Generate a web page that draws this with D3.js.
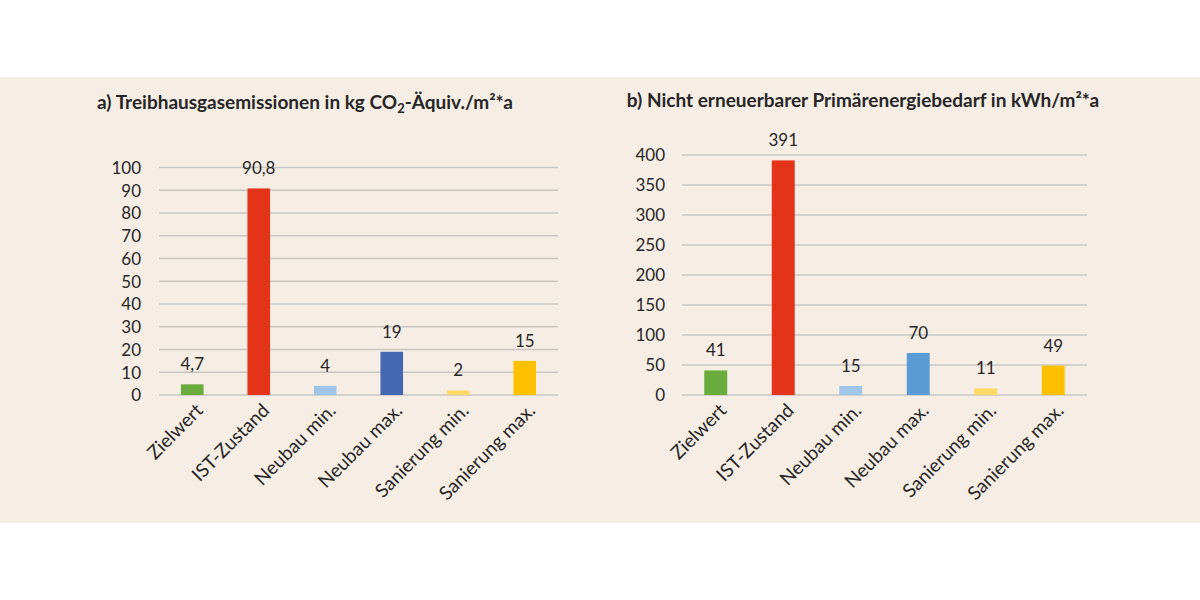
<!DOCTYPE html>
<html><head><meta charset="utf-8">
<script src="https://cdn.jsdelivr.net/npm/d3@7"></script>
<style>body{margin:0;background:#fff}svg{display:block}text{font-family:Lato,"Open Sans",sans-serif;fill:#262626}</style>
</head><body><svg id="c" width="1200" height="600"></svg>
<script>
const categories = ["Zielwert","IST-Zustand","Neubau min.","Neubau max.","Sanierung min.","Sanierung max."];
const valuesA = [4.7, 90.8, 4, 19, 2, 15];
const labelsA = ["4,7","90,8","4","19","2","15"];
const colorsA = ["#6aab3e","#e3341a","#9fc5e8","#4468b2","#ffd966","#ffc000"];
const ticksA = [0,10,20,30,40,50,60,70,80,90,100];
const valuesB = [41, 391, 15, 70, 11, 49];
const labelsB = ["41","391","15","70","11","49"];
const colorsB = ["#6aab3e","#e3341a","#9fc5e8","#5b9bd5","#ffd966","#ffc000"];
const ticksB = [0,50,100,150,200,250,300,350,400];

const svg = d3.select("#c");
svg.append("rect").attr("x",0).attr("y",77).attr("width",1200).attr("height",446).attr("fill","#f6eee5");

function panel(cfg){
  const g = svg.append("g");
  const x = d3.scaleBand().domain(categories).range(cfg.xr).paddingInner(0.66).paddingOuter(0.33);
  const y = d3.scaleLinear().domain([0,cfg.max]).range([395,cfg.ytop]);
  g.selectAll("line.grid").data(cfg.ticks).join("line")
    .attr("x1",cfg.xr[0]).attr("x2",cfg.xr[1]).attr("y1",d=>y(d)).attr("y2",d=>y(d))
    .attr("stroke","#c9c6c2").attr("stroke-width",1.3);
  const ax = d3.axisLeft(y).tickValues(cfg.ticks).tickSize(0).tickPadding(0);
  const axg = g.append("g").attr("transform",`translate(${cfg.labx},0)`).call(ax);
  axg.select(".domain").remove();
  axg.selectAll("text").style("font-size","17px").attr("fill","#262626").attr("dy","0.35em");
  g.selectAll("rect.bar").data(cfg.values).join("rect")
    .attr("x",(d,i)=>x(categories[i])).attr("width",x.bandwidth())
    .attr("y",d=>y(d)).attr("height",d=>395-y(d)).attr("fill",(d,i)=>cfg.colors[i]);
  g.selectAll("text.val").data(cfg.values).join("text")
    .attr("x",(d,i)=>x(categories[i])+x.bandwidth()/2).attr("y",d=>y(d)-14)
    .attr("text-anchor","middle").style("font-size","17px").text((d,i)=>cfg.labels[i]);
  g.selectAll("text.cat").data(categories).join("text")
    .attr("transform",d=>`translate(${x(d)+x.bandwidth()/2+7},${407}) rotate(-45)`)
    .attr("text-anchor","end").attr("dy","0.35em").style("font-size","19px").text(d=>d);
  return g;
}
panel({xr:[159,558], max:100, ytop:167.5, ticks:ticksA, values:valuesA, labels:labelsA, colors:colorsA, labx:141});
panel({xr:[682,1087], max:400, ytop:155, ticks:ticksB, values:valuesB, labels:labelsB, colors:colorsB, labx:665});

const tA = svg.append("text").attr("x",305).attr("y",109).attr("text-anchor","middle")
  .style("font-size","19px").style("font-weight","bold");
tA.append("tspan").text("a) Treibhausgasemissionen in kg CO");
tA.append("tspan").attr("dy",4).style("font-size","13px").text("2");
tA.append("tspan").attr("dy",-4).text("-Äquiv./m²*a");
svg.append("text").attr("x",863).attr("y",107).attr("text-anchor","middle")
  .style("font-size","19px").style("font-weight","bold").text("b) Nicht erneuerbarer Primärenergiebedarf in kWh/m²*a");
</script></body></html>
